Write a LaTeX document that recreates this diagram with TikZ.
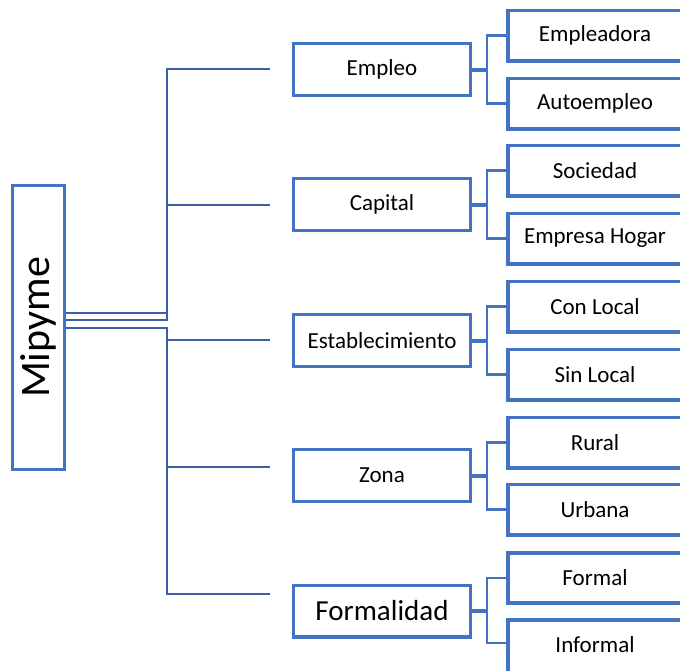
\documentclass[tikz,border=0pt]{standalone}
\usepackage{fontspec}
\setmainfont{Carlito}
\usetikzlibrary{calc}
\definecolor{boxblue}{HTML}{4472C4}
\definecolor{lineblue}{HTML}{3C60A8}
\begin{document}
\begin{tikzpicture}[x=1pt,y=1pt,
  lvtwo/.style={draw=boxblue, line width=3.3pt, fill=white, inner sep=0pt,
    minimum width=176.7pt, minimum height=51.7pt, font=\fontsize{23}{27}\selectfont},
  lvthree/.style={draw=boxblue, line width=3.6pt, fill=white, inner sep=0pt,
    minimum width=184.4pt, minimum height=50.4pt, font=\fontsize{23}{27}\selectfont,
    execute at begin node={\hspace*{-10pt}}},
  conn/.style={draw=lineblue, line width=2.3pt},
  stub/.style={draw=boxblue, line width=4pt},
  brk/.style={draw=boxblue, line width=2.3pt}
]
\useasboundingbox (0,0) rectangle (680,-670);
\clip (0,0) rectangle (680,-670);

% root
\node[draw=boxblue, line width=3.3pt, rotate=90, inner sep=0pt,
  minimum width=283.7pt, minimum height=51.7pt,
  font=\fontsize{42}{48}\selectfont] (mip) at (38.5,-327.5) {Mipyme};

% level 2
\node[lvtwo] (emp) at (382,-69.5) {Empleo};
\node[lvtwo] (cap) at (382,-204.5) {Capital};
\node[lvtwo] (est) at (382,-340.5) {Establecimiento};
\node[lvtwo] (zon) at (382,-475.5) {Zona};
\node[lvtwo, font=\fontsize{29}{34}\selectfont] (for) at (382,-611) {Formalidad};

% level 3
\node[lvthree] (empa) at (600,-35.5) {Empleadora};
\node[lvthree] (empb) at (600,-103.5) {Autoempleo};
\node[lvthree] (capa) at (600,-170.5) {Sociedad};
\node[lvthree] (capb) at (600,-238.5) {Empresa Hogar};
\node[lvthree] (esta) at (600,-306.5) {Con Local};
\node[lvthree] (estb) at (600,-374.5) {Sin Local};
\node[lvthree] (zona) at (600,-442.5) {Rural};
\node[lvthree] (zonb) at (600,-509.5) {Urbana};
\node[lvthree] (fora) at (600,-578) {Formal};
\node[lvthree, anchor=north, minimum height=60.4pt, text height=16pt, text depth=12pt]
  (forb) at (600,-618) {Informal};

% trunk coordinates
\coordinate (m1) at ($(mip.south)+(0,14.5)$);
\coordinate (m2) at ($(mip.south)+(0,7.5)$);
\coordinate (m3) at ($(mip.south)+(0,-0.5)$);
\coordinate (t1) at (167,-313);
\coordinate (t2) at (167,-320);
\coordinate (t3) at (167,-328);
\coordinate (j1) at (167,-69);
\coordinate (j2) at (167,-205);
\coordinate (j3) at (167,-340);
\coordinate (j4) at (167,-467);
\coordinate (j5) at (167,-594);
\coordinate (e1) at (270,-69);
\coordinate (e2) at (270,-205);
\coordinate (e3) at (270,-340);
\coordinate (e4) at (270,-467);
\coordinate (e5) at (270,-594);

\draw[conn] (m1) -- (t1);
\draw[conn] (m2) -- (t2) -- (j1) -- (e1);
\draw[conn] (j2) -- (e2);
\draw[conn] (m3) -- (t3) -- (j5) -- (e5);
\draw[conn] (j3) -- (e3);
\draw[conn] (j4) -- (e4);

% brackets
\coordinate (kforb) at (487,-643);
\foreach \p/\a/\b in {emp/empa/empb, cap/capa/capb, est/esta/estb, zon/zona/zonb}{
  \coordinate (k\p) at ($(\p.east)+(15,0)$);
  \draw[stub] (\p.east) -- (k\p);
  \draw[brk] (\a.west) -| (k\p) |- (\b.west);
}
\coordinate (kfor) at ($(for.east)+(15,0)$);
\draw[stub] (for.east) -- (kfor);
\draw[brk] (fora.west) -| (kfor) |- (kforb) -- (kforb -| forb.west);
\end{tikzpicture}
\end{document}
